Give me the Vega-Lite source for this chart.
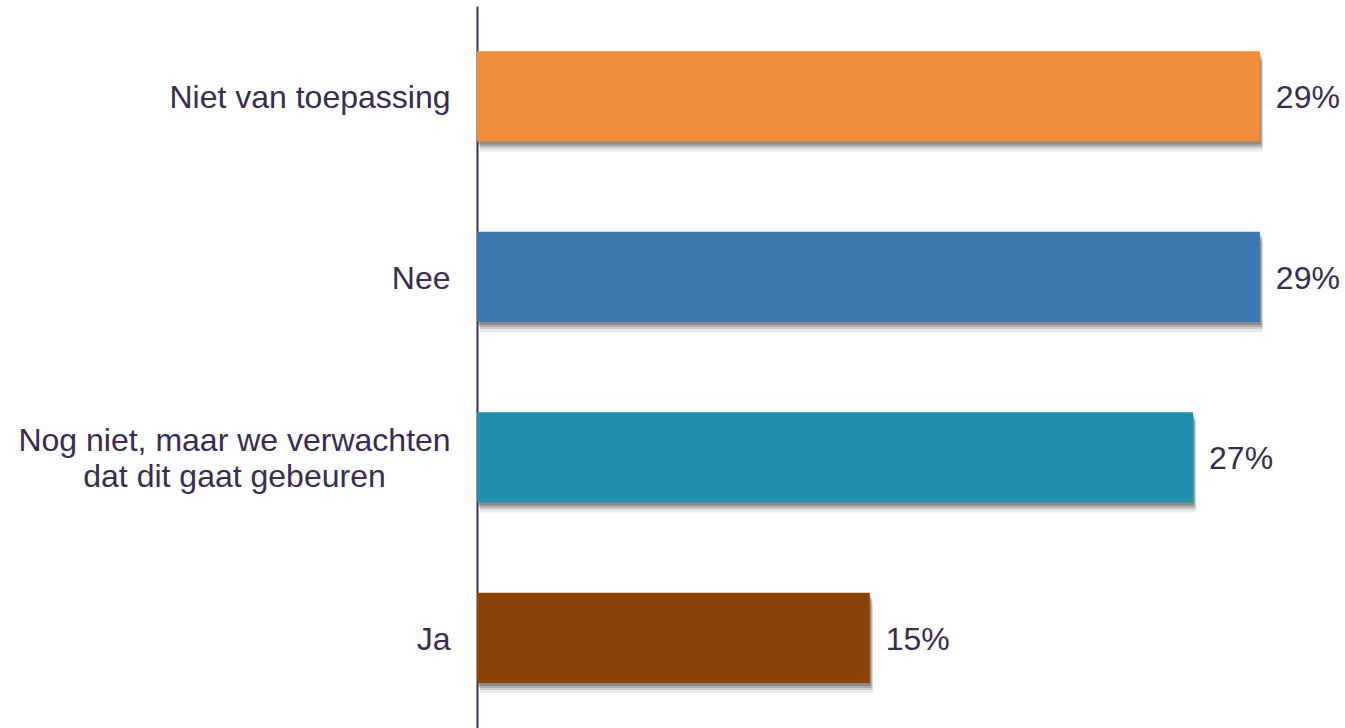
{
  "$schema": "https://vega.github.io/schema/vega-lite/v6.json",
  "autosize": "none",
  "width": 855,
  "height": 722,
  "padding": {"left": 477, "top": 6, "right": 13, "bottom": 0},
  "background": "white",
  "config": {"view": {"stroke": null}, "font": "Liberation Sans"},
  "data": {
    "values": [
      {"category": "Niet van toepassing", "value": 29.3, "label": "29%", "color": "#F28E3B"},
      {"category": "Nee", "value": 29.3, "label": "29%", "color": "#3C77AE"},
      {"category": "Nog niet, maar we verwachten dat dit gaat gebeuren", "value": 26.8, "label": "27%", "color": "#2190AE"},
      {"category": "Ja", "value": 14.7, "label": "15%", "color": "#8B430A"}
    ]
  },
  "encoding": {
    "y": {
      "field": "category",
      "type": "nominal",
      "sort": null,
      "scale": {"paddingInner": 0.5, "paddingOuter": 0.25},
      "axis": {
        "title": null,
        "ticks": false,
        "domain": true,
        "domainColor": "#3B2D55",
        "domainWidth": 2,
        "labelFont": "Liberation Sans",
        "labelFontSize": 32,
        "labelColor": "#3A2C52",
        "labelLimit": 600,
        "labelLineHeight": 36,
        "labelExpr": "datum.value == 'Nog niet, maar we verwachten dat dit gaat gebeuren' ? ['Nog niet, maar we verwachten', 'dat dit gaat gebeuren'] : datum.label",
        "labelAlign": {"condition": {"test": "datum.value == 'Nog niet, maar we verwachten dat dit gaat gebeuren'", "value": "center"}, "value": "right"},
        "labelPadding": {"condition": {"test": "datum.value == 'Nog niet, maar we verwachten dat dit gaat gebeuren'", "value": 243}, "value": 27},
        "labelOffset": {"condition": {"test": "datum.value == 'Nog niet, maar we verwachten dat dit gaat gebeuren'", "value": -16}, "value": 2}
      }
    },
    "x": {
      "field": "value",
      "type": "quantitative",
      "scale": {"domain": [0, 32]},
      "axis": null
    }
  },
  "layer": [
    {"mark": {"type": "bar", "color": "#000000", "opacity": 0.08, "xOffset": 3, "yOffset": 10}},
    {"mark": {"type": "bar", "color": "#000000", "opacity": 0.12, "xOffset": 3, "yOffset": 7}},
    {"mark": {"type": "bar", "color": "#000000", "opacity": 0.16, "xOffset": 2, "yOffset": 5}},
    {"mark": {"type": "bar", "color": "#000000", "opacity": 0.2, "xOffset": 1, "yOffset": 3}},
    {
      "mark": {"type": "bar"},
      "encoding": {"color": {"field": "color", "type": "nominal", "scale": null}}
    },
    {
      "mark": {"type": "text", "align": "left", "baseline": "middle", "dx": 16, "dy": 2, "fontSize": 32, "font": "Liberation Sans", "color": "#3A2C52"},
      "encoding": {"text": {"field": "label"}}
    }
  ]
}
